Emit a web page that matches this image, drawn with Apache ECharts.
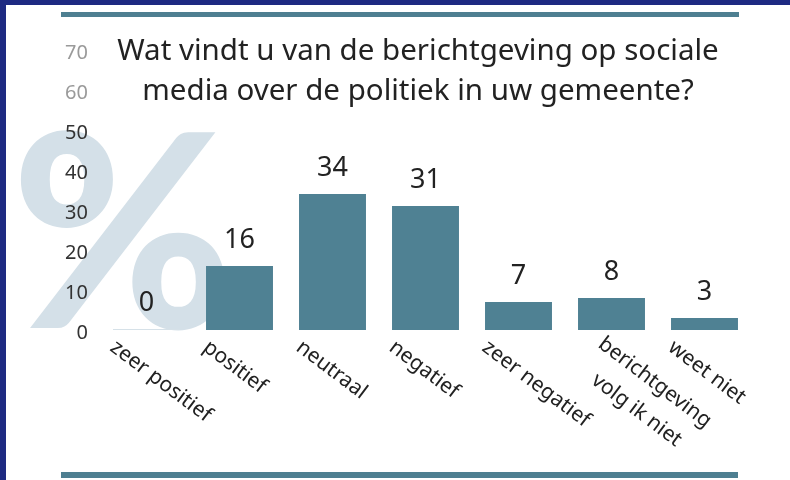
<!DOCTYPE html>
<html lang="nl">
<head>
    <meta charset="UTF-8">
    <title>Berichtgeving sociale media</title>
    <script src="https://cdn.jsdelivr.net/npm/echarts@6/dist/echarts.min.js"></script>
    <style>
        body{margin:0;}
        #main{width:790px;height:480px;}
    </style>
</head>
<body>
<div id="main"></div>
<script>
    // data
    var categories=['zeer positief','positief','neutraal','negatief','zeer negatief','berichtgeving\nvolg ik niet','weet niet'];
    var values=[0,16,34,31,7,8,3];
    var yTicks=[0,10,20,30,40,50,60,70];
    var titleLines=['Wat vindt u van de berichtgeving op sociale','media over de politiek in uw gemeente?'];

    var barColor='#4f8193';
    var font='"Noto Sans", sans-serif';

    var seriesData=[];
    for(var i=0;i<values.length;i++){
        var item={value:values[i]};
        if(values[i]===0){
            item.itemStyle={color:'#d6e1e8'};
        }
        seriesData.push(item);
    }

    var myCharts=echarts.init(document.getElementById('main'));
    var option={
        backgroundColor:'#1e2a82',
        animation:false,
        title:{
            text:titleLines.join('\n'),
            left:413,
            top:27,
            textAlign:'center',
            textStyle:{
                color:'#222',
                fontFamily:font,
                fontWeight:'normal',
                fontSize:29.5,
                lineHeight:40
            }
        },
        graphic:[
            {type:'rect',z:-10,shape:{x:6,y:5,width:784,height:475},style:{fill:'#fff'}},
            {type:'rect',z:-9,shape:{x:61,y:12,width:678,height:5},style:{fill:'#4e7f91'}},
            {type:'rect',z:-9,shape:{x:61,y:472,width:677,height:6},style:{fill:'#4e7f91'}},
            {type:'text',z:-8,x:11,y:106,style:{text:'%',fill:'#d4e0e8',font:'900 270px Lato, sans-serif'}}
        ],
        grid:[
            {left:100,right:39,top:50,bottom:150},
            {left:66,right:73,top:53,bottom:147}
        ],
        xAxis:[{
            type:'category',
            gridIndex:0,
            data:categories,
            axisLine:{show:false},
            axisTick:{show:false},
            axisLabel:{show:false}
        },{
            type:'category',
            gridIndex:1,
            data:categories,
            axisLine:{show:false},
            axisTick:{show:false},
            axisLabel:{
                interval:0,
                rotate:-37,
                margin:12,
                color:'#222',
                fontFamily:font,
                fontSize:21,
                lineHeight:33,
                formatter:function(v){
                    var parts=v.split('\n');
                    if(parts.length>1){
                        return '   '+parts[0]+'\n      '+parts[1];
                    }
                    return v;
                }
            }
        }],
        yAxis:[{
            type:'value',
            gridIndex:0,
            min:0,
            max:70,
            interval:10,
            show:false
        },{
            type:'value',
            gridIndex:1,
            min:0,
            max:70,
            interval:10,
            splitLine:{show:false},
            axisLine:{show:false},
            axisTick:{show:false},
            axisLabel:{
                margin:-22,
                align:'right',
                fontFamily:font,
                fontSize:20,
                color:function(v){return v>=60?'#9a9a9a':'#333';}
            }
        }],
        series:[{
            type:'bar',
            xAxisIndex:0,
            yAxisIndex:0,
            data:seriesData,
            barCategoryGap:'28%',
            barMinHeight:1,
            itemStyle:{color:barColor},
            label:{
                show:true,
                position:'top',
                distance:12,
                color:'#222',
                fontFamily:font,
                fontSize:27
            }
        }]
    };
    myCharts.setOption(option);
</script>
</body>
</html>
